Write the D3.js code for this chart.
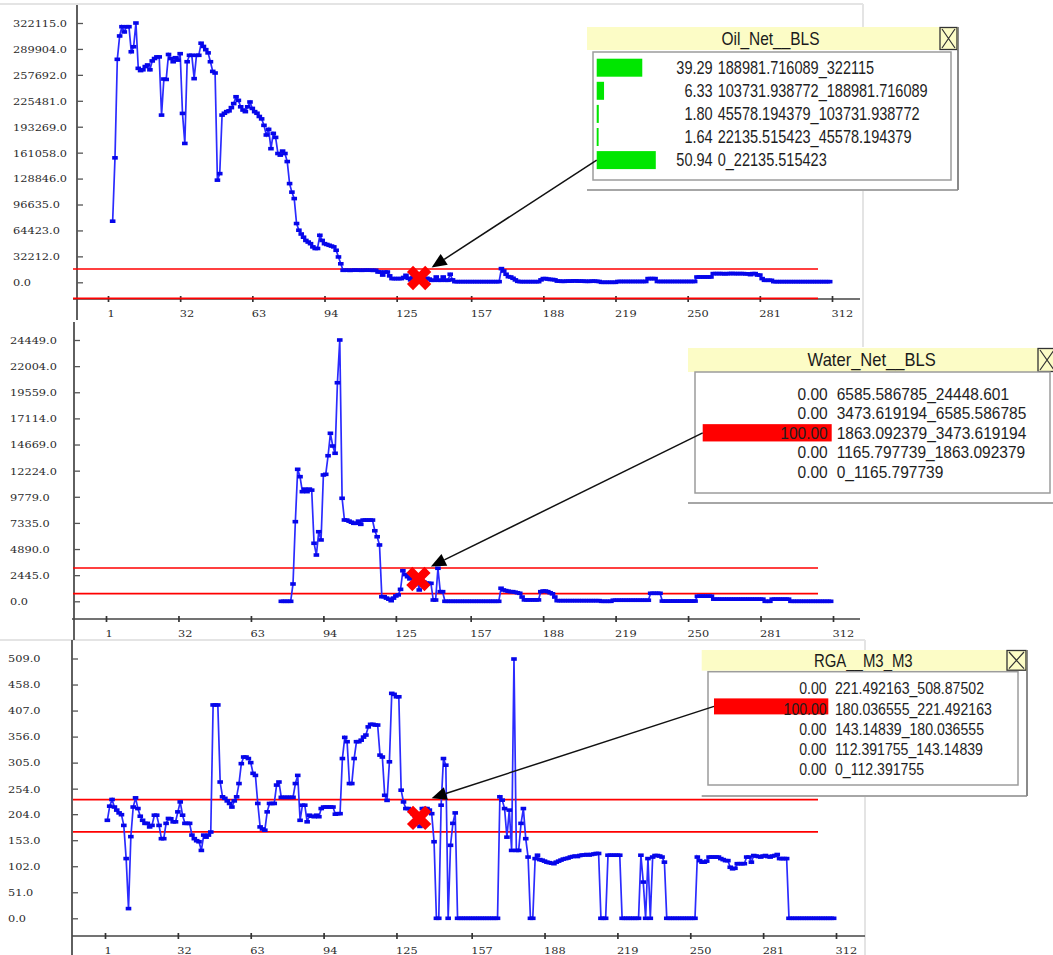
<!DOCTYPE html>
<html>
<head>
<meta charset="utf-8">
<script src="https://cdn.jsdelivr.net/npm/d3@7"></script>
<style>
  html, body { margin: 0; padding: 0; background: #fff; }
  svg { display: block; }
</style>
</head>
<body>
<svg id="chart" width="1053" height="955"></svg>
<script>
// ---------------- data ----------------
const sampleTicks = ["1", "32", "63", "94", "125", "157", "188", "219", "250", "281", "312"];

const oilTickLabels = ["0.0", "32212.0", "64423.0", "96635.0", "128846.0", "161058.0", "193269.0", "225481.0", "257692.0", "289904.0", "322115.0"];
const waterTickLabels = ["0.0", "2445.0", "4890.0", "7335.0", "9779.0", "12224.0", "14669.0", "17114.0", "19559.0", "22004.0", "24449.0"];
const rgaTickLabels = ["0.0", "51.0", "102.0", "153.0", "204.0", "254.0", "305.0", "356.0", "407.0", "458.0", "509.0"];

// Oil_Net__BLS, thousands of BLS, samples 3..311
const oilStart = 3;
const oilNetThousands = [
  75.9, 154.6, 277, 306, 317.5, 311, 317.5, 317.5, 286.4, 292.6,
  322.1, 265.8, 263, 264, 268, 270, 264, 275, 278, 280,
  280, 207.7, 252.5, 252, 283, 278, 274, 279, 276, 284,
  209.8, 172.5, 274, 282, 282, 253, 282, 282, 297, 293,
  289, 285, 274, 262, 260, 126.9, 135, 207.7, 210, 212,
  213, 217, 222, 230.5, 226, 218, 214, 212, 218, 224,
  216, 212, 210, 206, 203, 195, 183, 190, 166, 185,
  180, 160, 158, 163, 160, 150, 122.6, 112, 104, 73,
  64.7, 60, 56, 52, 50, 48, 44, 42, 42, 58.4,
  52, 48, 47, 46, 45, 44, 39.8, 31.5, 23, 14.9,
  15, 15, 14.8, 15, 15.2, 15, 15, 14.9, 15, 15.1,
  15, 15, 14.8, 15, 12.8, 12.8, 9, 12.8, 12.8, 8,
  4.6, 4.6, 4.6, 4.6, 4.6, 6, 8.7, 5, 3, 6,
  4, 5.3, 2, 6, 3, 5, 4, 2.5, 2.5, 6.6,
  2.5, 2.5, 6.6, 2.5, 2.5, 10, 3, 0.8, 0.8, 0.8,
  0.8, 0.8, 0.8, 0.8, 0.8, 0.8, 0.8, 0.8, 0.8, 0.8,
  0.8, 0.8, 0.8, 0.8, 0.8, 0.8, 0.8, 17, 14, 10,
  7, 6.6, 5, 3, 1.2, 0.8, 0.8, 0.8, 0.8, 0.8,
  0.8, 0.8, 0.8, 0.8, 3, 4.6, 4.6, 4, 3.5, 3.5,
  3, 1.5, 1.5, 1.2, 1.2, 1.5, 1.5, 1.5, 1.8, 1.8,
  1.5, 1.5, 1.5, 1.2, 1.2, 1.2, 1.5, 1.5, 1.2, 1,
  0, 0, 0, 0, 0, 0, 0, 1, 1, 1,
  1, 1, 1, 1, 1, 1, 1, 1, 1, 1,
  4.6, 4.6, 4.6, 4.6, 1, 1, 1, 1, 1, 1,
  1, 1, 1, 1, 1, 1, 1, 1, 1, 1,
  1, 6.6, 6.6, 6.6, 6.6, 6.6, 6.6, 6.6, 10.8, 10.8,
  10.8, 10.8, 10.8, 10.5, 10.8, 10.8, 11, 10.8, 10.8, 10.8,
  10.8, 10.8, 10.5, 10.5, 9.5, 10.8, 10.8, 9, 9, 4.6,
  2.5, 2.5, 2.5, 2.5, 0.8, 0.8, 0.8, 0.8, 0.8, 0.8,
  0.8, 0.8, 0.8, 0.8, 0.8, 0.8, 0.8, 0.8, 0.8, 0.8,
  0.8, 0.8, 0.8, 0.8, 0.8, 0.8, 0.8, 0.8, 0.8
];

// Water_Net__BLS, samples 76..311
const waterStart = 76;
const waterNet = [
  0, 0, 0, 0, 0, 1620, 7450, 12350, 11660, 10260,
  10500, 10260, 10500, 10400, 5430, 4330, 6510, 5740, 11820, 11880,
  13620, 15720, 14530, 13850, 20450, 24449, 9640, 7610, 7600, 7500,
  7400, 7300, 7300, 7500, 7200, 7600, 7600, 7600, 7600, 7600,
  6600, 6040, 5270, 430, 430, 300, 200, 56, 300, 500,
  600, 1120, 2860, 2500, 2300, 2100, 2400, 2200, 2087, 1060,
  2000, 1800, 1700, 1680, 1680, 120, 120, 3090, 900, 900,
  0, 0, 0, 0, 0, 0, 0, 0, 0, 0,
  0, 0, 0, 0, 0, 0, 0, 0, 0, 0,
  0, 0, 0, 0, 1220, 1060, 1000, 950, 900, 900,
  850, 800, 750, 400, 130, 130, 130, 130, 130, 130,
  130, 900, 960, 960, 900, 800, 700, 400, 60, 60,
  60, 60, 60, 60, 60, 60, 60, 60, 60, 60,
  60, 60, 60, 60, 60, 60, 60, 0, 0, 0,
  0, 0, 100, 100, 100, 100, 100, 100, 100, 100,
  100, 100, 100, 100, 100, 100, 100, 100, 750, 750,
  750, 750, 750, 20, 20, 20, 20, 20, 20, 20,
  20, 20, 20, 20, 20, 20, 20, 20, 480, 480,
  480, 480, 480, 480, 480, 200, 200, 200, 200, 200,
  200, 200, 200, 200, 200, 200, 200, 200, 200, 200,
  200, 200, 200, 200, 200, 200, 200, 0, 0, 0,
  200, 200, 200, 200, 200, 200, 200, 200, 0, 0,
  0, 0, 0, 0, 0, 0, 0, 0, 0, 0,
  0, 0, 0, 0, 0, 0
];

// RGA__M3_M3, samples 2..311
const rgaStart = 2;
const rgaM3 = [
  192, 219.7, 232.8, 218, 212, 206.5, 203, 182, 117, 19,
  160, 218, 236, 215, 200, 192, 186, 186, 179, 182,
  202, 202, 182, 156, 156, 186, 195.6, 195, 189, 189,
  208.5, 228, 202, 186, 186, 186, 163, 156, 152, 150,
  133, 163, 159, 163, 169, 418, 418, 418, 267, 238,
  235, 230, 225, 218, 230, 238, 264, 303, 316, 316,
  313, 305, 284, 280, 225, 179, 175, 172.6, 208.5, 225,
  225, 225, 261, 267, 237, 237, 237, 237, 237, 237,
  264, 280, 192, 221.6, 221.6, 189, 202, 200, 199, 202,
  199, 215, 218, 218, 218, 218, 218, 204, 205, 205,
  313, 354.4, 346, 264, 264, 313, 346, 346, 349, 355,
  359, 375, 380, 380, 378.6, 378.6, 319.7, 316, 241, 231,
  306.6, 440.7, 438.8, 434, 434, 251, 228, 215, 215, 210,
  205, 200, 196.6, 180, 215, 215, 215, 212, 205, 150,
  0, 0, 221.6, 313, 300, 0, 143, 186, 206.5, 0,
  0, 0, 0, 0, 0, 0, 0, 0, 0, 0,
  0, 0, 0, 0, 0, 0, 0, 238, 231.5, 215,
  159, 212, 133, 508, 133, 133, 186, 215, 156, 120,
  0, 0, 117, 123.6, 115, 113.8, 112, 110, 109, 108,
  107, 110, 112, 114, 116, 117, 118, 120, 121, 122,
  121, 123, 124, 124, 125, 124, 125, 126, 127, 127,
  0, 0, 0, 123.6, 123.6, 123.6, 123.6, 123.6, 123.6, 0,
  0, 0, 0, 0, 0, 0, 0, 123.6, 71, 0,
  117, 0, 120, 123, 123, 122, 120, 110, 0, 0,
  0, 0, 0, 0, 0, 0, 0, 0, 0, 0,
  0, 120, 113, 110, 110, 112, 120, 120, 120, 120,
  120, 117, 115, 113, 113, 100, 97, 98, 107, 107,
  107, 107, 120, 120, 110, 123, 122, 121, 120, 122,
  123, 121, 120, 122, 123, 125, 117, 117, 117, 117,
  0, 0, 0, 0, 0, 0, 0, 0, 0, 0,
  0, 0, 0, 0, 0, 0, 0, 0, 0, 0
];

// highlighted sample and the band drawn around it
const selectedSample = 134;
const oilBand = [-19900, 16500];
const waterBand = [711, 3116];
const rgaBand = [169.2, 232.5];

// class-range legends: share of samples (%) per value range
const oilBins = ["188981.716089_322115", "103731.938772_188981.716089", "45578.194379_103731.938772", "22135.515423_45578.194379", "0_22135.515423"];
const oilPct = [39.29, 6.33, 1.80, 1.64, 50.94];
const waterBins = ["6585.586785_24448.601", "3473.619194_6585.586785", "1863.092379_3473.619194", "1165.797739_1863.092379", "0_1165.797739"];
const waterPct = [0, 0, 100, 0, 0];
const rgaBins = ["221.492163_508.87502", "180.036555_221.492163", "143.14839_180.036555", "112.391755_143.14839", "0_112.391755"];
const rgaPct = [0, 100, 0, 0, 0];

// ---------------- layout ----------------
const svg = d3.select("#chart");
const BLUE_LINE = "#2b2bff", BLUE_MARK = "#0606ea", RED = "#ff0000";

const panels = [
  {
    title: "Oil_Net__BLS", values: oilNetThousands.map(v => v * 1000), start: oilStart,
    ticks: oilTickLabels, band: oilBand, bins: oilBins, pct: oilPct, barColor: "#00e600",
    frame: { axisX: 77, axisTop: 5, axisBottom: 320, baseY: 299, baseLeft: 73, baseRight: 860,
             xRange: [108, 832], yRange: [282.3, 23], labelX: 13 },
    legend: { x: 587, titleY: 27, titleH: 23, right: 958, closeW: 18,
              inner: [593, 52, 951, 180], bottom: 190, titleCx: 770.5,
              titleFs: 18, titleSx: 0.86, rowY0: 67.7, rowStep: 23.1,
              barX: 596.7, barPx: 1.16, barH: 18, barDy: 0, pctX: 712.7, labelX: 717.7, fs: 17.5, sx: 0.83 }
  },
  {
    title: "Water_Net__BLS", values: waterNet, start: waterStart,
    ticks: waterTickLabels, band: waterBand, bins: waterBins, pct: waterPct, barColor: RED,
    frame: { axisX: 74, axisTop: 322, axisBottom: 640, baseY: 619, baseLeft: 72, baseRight: 860,
             xRange: [106, 833], yRange: [601.3, 340], labelX: 10 },
    legend: { x: 688, titleY: 348, titleH: 24, right: 1057, closeW: 19,
              inner: [695, 372, 1050, 493], bottom: 503, titleCx: 871.7,
              titleFs: 18, titleSx: 0.92, rowY0: 394, rowStep: 19.4,
              barX: 702.7, barPx: 1.29, barH: 17.3, barDy: 0, pctX: 827.7, labelX: 836.7, fs: 16.5, sx: 0.94 }
  },
  {
    title: "RGA__M3_M3", values: rgaM3, start: rgaStart,
    ticks: rgaTickLabels, band: rgaBand, bins: rgaBins, pct: rgaPct, barColor: RED,
    frame: { axisX: 72, axisTop: 640, axisBottom: 955, baseY: 936, baseLeft: 72, baseRight: 865,
             xRange: [105, 836], yRange: [918.3, 658.5], labelX: 8 },
    legend: { x: 701.7, titleY: 650, titleH: 20.7, right: 1027, closeW: 20,
              inner: [708, 671.7, 1018, 785], bottom: 796, titleCx: 863.3,
              titleFs: 18, titleSx: 0.83, rowY0: 688.3, rowStep: 20.1,
              barX: 714, barPx: 1.143, barH: 16, barDy: -2, pctX: 826.7, labelX: 835, fs: 17, sx: 0.83 }
  }
];

// faint window separators
const sep = svg.append("g").attr("stroke", "#e4e4e4").attr("stroke-width", 2);
sep.append("line").attr("x1", 0).attr("x2", 863).attr("y1", 4).attr("y2", 4);
sep.append("line").attr("x1", 863).attr("x2", 863).attr("y1", 4).attr("y2", 347);
sep.append("line").attr("x1", 0).attr("x2", 865).attr("y1", 640).attr("y2", 640);
sep.append("line").attr("x1", 865).attr("x2", 865).attr("y1", 640).attr("y2", 955);

function scaledText(g, x, y, str, o) {
  return g.append("text")
    .attr("transform", `translate(${x},${y}) scale(${o.sx},1)`)
    .attr("text-anchor", o.anchor || "start")
    .attr("font-family", o.ff || "'Liberation Sans', Arial, sans-serif")
    .attr("font-size", o.fs)
    .attr("fill", o.fill || "#1e1e1e")
    .text(str);
}

function binIndex(bins, v) {
  return bins.findIndex(b => {
    const [lo, hi] = b.split("_").map(Number);
    return v >= lo && v <= hi;
  });
}

function drawArrow(g, x1, y1, x2, y2) {
  const a = Math.atan2(y2 - y1, x2 - x1);
  const len = 15, hw = 6.5;
  const bx = x2 - len * Math.cos(a), by = y2 - len * Math.sin(a);
  g.append("line").attr("x1", x1).attr("y1", y1).attr("x2", bx).attr("y2", by)
    .attr("stroke", "#111").attr("stroke-width", 1.5);
  g.append("path")
    .attr("d", `M${x2},${y2}L${bx + hw * Math.sin(a)},${by - hw * Math.cos(a)}L${bx - hw * Math.sin(a)},${by + hw * Math.cos(a)}Z`)
    .attr("fill", "#000");
}

const arrowLayer = [];

panels.forEach(p => {
  const F = p.frame;
  const g = svg.append("g");
  const x = d3.scaleLinear()
    .domain([+sampleTicks[0], +sampleTicks[sampleTicks.length - 1]])
    .range(F.xRange);
  const y = d3.scaleLinear()
    .domain([0, +p.ticks[p.ticks.length - 1]])
    .range(F.yRange);

  // axis lines
  g.append("line").attr("x1", F.axisX).attr("x2", F.axisX).attr("y1", F.axisTop).attr("y2", F.axisBottom)
    .attr("stroke", "#444").attr("stroke-width", 1.7);
  g.append("line").attr("x1", F.baseLeft).attr("x2", F.baseRight).attr("y1", F.baseY).attr("y2", F.baseY)
    .attr("stroke", "#444").attr("stroke-width", 1.7);

  // value axis
  const labelOf = new Map(p.ticks.map(t => [+t, t]));
  const ya = g.append("g").attr("transform", `translate(${F.axisX},0)`)
    .call(d3.axisLeft(y).tickValues(p.ticks.map(Number)).tickFormat(d => labelOf.get(d))
      .tickSizeInner(-6).tickSizeOuter(0));
  ya.select(".domain").remove();
  ya.selectAll(".tick line").attr("stroke", "#555").attr("stroke-width", 1.3);
  ya.selectAll(".tick text")
    .attr("x", null).attr("dy", "0.36em")
    .attr("text-anchor", "start")
    .attr("transform", `translate(${F.labelX - F.axisX},0) scale(1.22,1)`)
    .attr("font-family", "'DejaVu Serif', serif").attr("font-size", 9.3).attr("fill", "#2a2a2a");

  // sample axis
  const xa = g.append("g").attr("transform", `translate(0,${F.baseY})`)
    .call(d3.axisBottom(x).tickValues(sampleTicks.map(Number)).tickFormat(d3.format("d"))
      .tickSizeInner(3).tickSizeOuter(0));
  xa.select(".domain").remove();
  xa.selectAll(".tick line").attr("y1", -3).attr("y2", 3).attr("stroke", "#333").attr("stroke-width", 1.7);
  xa.selectAll(".tick text")
    .attr("y", null).attr("dy", null)
    .attr("text-anchor", "start")
    .attr("transform", "translate(-1,17.5) scale(1.22,1)")
    .attr("font-family", "'DejaVu Serif', serif").attr("font-size", 9.3).attr("fill", "#2a2a2a");

  // band lines
  g.selectAll(".band").data(p.band).join("line")
    .attr("x1", 73).attr("x2", 818)
    .attr("y1", d => y(d)).attr("y2", d => y(d))
    .attr("stroke", RED).attr("stroke-width", 1.7);

  // series
  const pts = p.values.map((v, k) => ({ i: p.start + k, v }));
  g.append("path").datum(pts)
    .attr("d", d3.line().x(d => x(d.i)).y(d => y(d.v)))
    .attr("fill", "none").attr("stroke", BLUE_LINE).attr("stroke-width", 1.7);
  g.selectAll(".mk").data(pts).join("rect")
    .attr("x", d => x(d.i) - 2.8).attr("y", d => y(d.v) - 1.8)
    .attr("width", 5.6).attr("height", 3.6).attr("fill", BLUE_MARK);

  // highlighted sample
  const sel = pts.find(d => d.i === selectedSample);
  const sx = x(sel.i), sy = y(sel.v);
  g.append("path")
    .attr("d", d3.symbol().type(d3.symbolCross).size(370)())
    .attr("transform", `translate(${sx + 1.5},${sy}) rotate(45)`)
    .attr("fill", RED);

  // legend
  const L = p.legend;
  const lg = svg.append("g");
  const [ix0, iy0, ix1, iy1] = L.inner;
  lg.append("rect").attr("x", L.x).attr("y", L.titleY + L.titleH)
    .attr("width", L.right - L.x).attr("height", L.bottom - L.titleY - L.titleH).attr("fill", "#fff");
  lg.append("line").attr("x1", L.x).attr("x2", L.right).attr("y1", L.bottom).attr("y2", L.bottom)
    .attr("stroke", "#a6a6a6").attr("stroke-width", 2);
  lg.append("line").attr("x1", L.right).attr("x2", L.right).attr("y1", L.titleY).attr("y2", L.bottom)
    .attr("stroke", "#8a8a8a").attr("stroke-width", 2);
  lg.append("rect").attr("x", L.x).attr("y", L.titleY).attr("width", L.right - L.x).attr("height", L.titleH)
    .attr("fill", "#fcfcc6");
  const cx0 = L.right - L.closeW;
  lg.append("rect").attr("x", cx0).attr("y", L.titleY + 0.5).attr("width", L.closeW - 1).attr("height", L.titleH - 1)
    .attr("fill", "none").attr("stroke", "#333").attr("stroke-width", 1.3);
  lg.append("path")
    .attr("d", `M${cx0 + 2},${L.titleY + 2}L${L.right - 3},${L.titleY + L.titleH - 2}M${L.right - 3},${L.titleY + 2}L${cx0 + 2},${L.titleY + L.titleH - 2}`)
    .attr("stroke", "#333").attr("stroke-width", 1.2).attr("fill", "none");
  scaledText(lg, L.titleCx, L.titleY + L.titleH / 2 + L.titleFs * 0.36, p.title,
    { fs: L.titleFs, sx: L.titleSx, anchor: "middle", fill: "#1a1a1a" });
  lg.append("rect").attr("x", ix0).attr("y", iy0).attr("width", ix1 - ix0).attr("height", iy1 - iy0)
    .attr("fill", "#fff").attr("stroke", "#9c9c9c").attr("stroke-width", 1.5);

  const fmt = d3.format(".2f");
  const rowY = r => L.rowY0 + r * L.rowStep;
  p.bins.forEach((b, r) => {
    if (p.pct[r] > 0) {
      lg.append("rect").attr("x", L.barX).attr("y", rowY(r) + L.barDy - L.barH / 2)
        .attr("width", p.pct[r] * L.barPx).attr("height", L.barH).attr("fill", p.barColor);
    }
    scaledText(lg, L.pctX, rowY(r) + L.fs * 0.36, fmt(p.pct[r]), { fs: L.fs, sx: L.sx, anchor: "end" });
    scaledText(lg, L.labelX, rowY(r) + L.fs * 0.36, b, { fs: L.fs, sx: L.sx });
  });

  const selRow = binIndex(p.bins, sel.v);
  arrowLayer.push([L.barX, rowY(selRow) + L.barDy, sx + 14, y(p.band[1]) - 1.5]);
});

const ag = svg.append("g");
arrowLayer.forEach(a => drawArrow(ag, ...a));
</script>
</body>
</html>
